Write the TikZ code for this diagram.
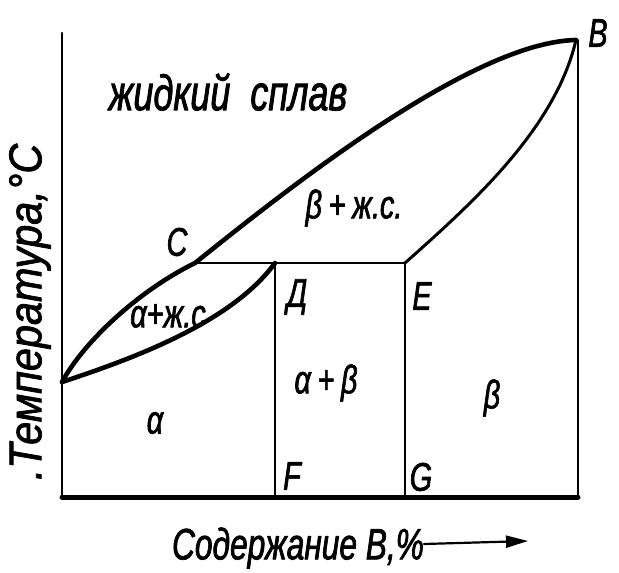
\documentclass[tikz,border=0pt]{standalone}
\usepackage{fontspec}
\setmainfont{Liberation Sans}[FakeStretch=0.72,FakeBold=1.6]
\newfontfamily\widefont{Liberation Sans}[FakeStretch=0.9,FakeBold=1.6]
\usetikzlibrary{arrows.meta}
\begin{document}
\begin{tikzpicture}[x=1pt,y=-1pt,
  line join=round, line cap=round,
  heavy/.style={line width=4.6pt},
  medium/.style={line width=3pt},
  vline/.style={line width=2pt},
  axisline/.style={line width=2.2pt},
  baseline/.style={line width=5pt},
  big/.style={inner sep=0pt, font=\itshape\fontsize{50}{50}\selectfont},
  mid/.style={inner sep=0pt, font=\itshape\fontsize{40}{40}\selectfont},
  letter/.style={inner sep=0pt, font=\itshape\fontsize{40}{40}\selectfont},
  xlbl/.style={inner sep=0pt, font=\itshape\fontsize{44}{44}\selectfont},
  ylbl/.style={inner sep=0pt, font=\widefont\itshape\fontsize{46}{46}\selectfont}]
\useasboundingbox (0,0) rectangle (619,573);
% key points
\coordinate (top) at (62,33);
\coordinate (O) at (62,497);
\coordinate (A) at (62,382);
\coordinate (C) at (195,263);
\coordinate (B) at (576,40);
\coordinate (D) at (275,263);
\coordinate (E) at (405,263);
\coordinate (F) at (275,497);
\coordinate (G) at (405,497);
\coordinate (R) at (578,497);
\coordinate (Rt) at (578,40);
% axes
\draw[axisline] (top) -- (O);
\draw[baseline] (O) -- (R);
\draw[vline] (Rt) -- (R);
% liquidus
\draw[heavy] (A) .. controls (85,340) and (140,290) .. (C)
  .. controls (280,195) and (470,42) .. (B);
% alpha solidus
\draw[heavy] (A) .. controls (135,358) and (232,322) .. (D);
% beta solidus
\draw[medium] (E) .. controls (470,205) and (555,130) .. (B);
% eutectic line and verticals
\draw[vline] (C) -- (E);
\draw[vline] (D) -- (F);
\draw[vline] (E) -- (G);
% labels
\node[big] (liq) at (228,92) {жидкий\ \ сплав};
\node[mid] (bl) at (354,208) {β\,+\,ж.с.};
\node[mid] (al) at (168,316) {α+ж.с};
\node[letter] (lC) at (177,242) {C};
\node[letter] (lD) at (297,297) {Д};
\node[letter] (lE) at (422,296) {E};
\node[letter] (lF) at (292,476) {F};
\node[letter] (lG) at (421,477) {G};
\node[mid] (ab) at (326,383) {α\,+\,β};
\node[mid] (lb) at (492,398) {β};
\node[mid] (la) at (155,423) {α};
\node[letter] (lB) at (598,33) {B};
\node[ylbl, rotate=90] (ylab) at (30,312) {.Температура,°С};
\node[xlbl] (xlab) at (298,548) {Содержание B,\%};
\coordinate (ar1) at (424,544);
\coordinate (ar2) at (528,541);
\draw[line width=2.2pt, -{Triangle[length=22pt,width=12pt]}] (ar1) -- (ar2);
\end{tikzpicture}
\end{document}
